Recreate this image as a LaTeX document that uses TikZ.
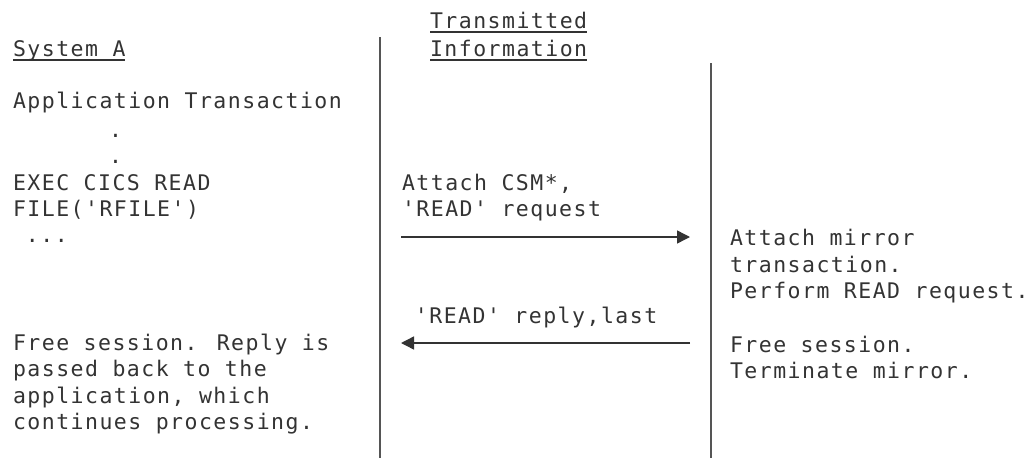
\documentclass[tikz,border=0pt]{standalone}
\usepackage{fontspec}
\newfontfamily\monofnt[LetterSpace=6.9]{DejaVu Sans Mono}
\usetikzlibrary{arrows.meta}
\definecolor{txtc}{HTML}{333333}
\definecolor{linec}{HTML}{555555}
\tikzset{
  txt/.style={anchor=base west, inner sep=0pt, outer sep=0pt, text=txtc,
    font=\monofnt\fontsize{21.5}{26.5}\selectfont},
  uline/.style={draw=txtc, line width=1.8pt},
  divider/.style={draw=linec, line width=1.6pt},
  msg/.style={draw=txtc, line width=1.4pt, -{Triangle[length=13pt,width=13pt]}}
}
\begin{document}
\begin{tikzpicture}[x=1pt,y=-1pt]
\useasboundingbox (0,0) rectangle (1028,458);
% headers
\node[txt] (sysA) at (13,56) {System A};
\node[txt] (trans) at (430,28) {Transmitted};
\node[txt] (info) at (430,56) {Information};
\draw[uline] ([yshift=-4pt]sysA.base west) -- ([yshift=-4pt]sysA.base east);
\draw[uline] ([yshift=-4pt]trans.base west) -- ([yshift=-4pt]trans.base east);
\draw[uline] ([yshift=-4pt]info.base west) -- ([yshift=-4pt]info.base east);
% dividers
\coordinate (d1t) at (380,37);
\coordinate (d1b) at (380,458);
\coordinate (d2t) at (711,63);
\coordinate (d2b) at (711,458);
\draw[divider] (d1t) -- (d1b);
\draw[divider] (d2t) -- (d2b);
% left column
\node[txt] (l1) at (13,108) {Application Transaction};
\node[txt] (l2) at (109,137) {.};
\node[txt] (l3) at (109,163) {.};
\node[txt] (l4) at (13,190) {EXEC CICS READ};
\node[txt] (l5) at (13,216) {FILE('RFILE')};
\node[txt] (l6) at (13,242) {\phantom{x}...};
\node[txt] (l7) at (13,350) {Free session. Reply is};
\node[txt] (l8) at (13,376) {passed back to the};
\node[txt] (l9) at (13,403) {application, which};
\node[txt] (l10) at (13,429) {continues processing.};
% middle column
\node[txt] (m1) at (402,190) {Attach CSM*,};
\node[txt] (m2) at (402,216) {'READ' request};
\node[txt] (m3) at (402,323) {\phantom{x}'READ' reply,last};
% right column
\node[txt] (r1) at (730,245) {Attach mirror};
\node[txt] (r2) at (730,272) {transaction.};
\node[txt] (r3) at (730,298) {Perform READ request.};
\node[txt] (r4) at (730,352) {Free session.};
\node[txt] (r5) at (730,378) {Terminate mirror.};
% messages
\coordinate (a1s) at (401,237);
\coordinate (a1e) at (690,237);
\coordinate (a2s) at (690,343);
\coordinate (a2e) at (401,343);
\draw[msg] (a1s) -- (a1e);
\draw[msg] (a2s) -- (a2e);
\end{tikzpicture}
\end{document}
